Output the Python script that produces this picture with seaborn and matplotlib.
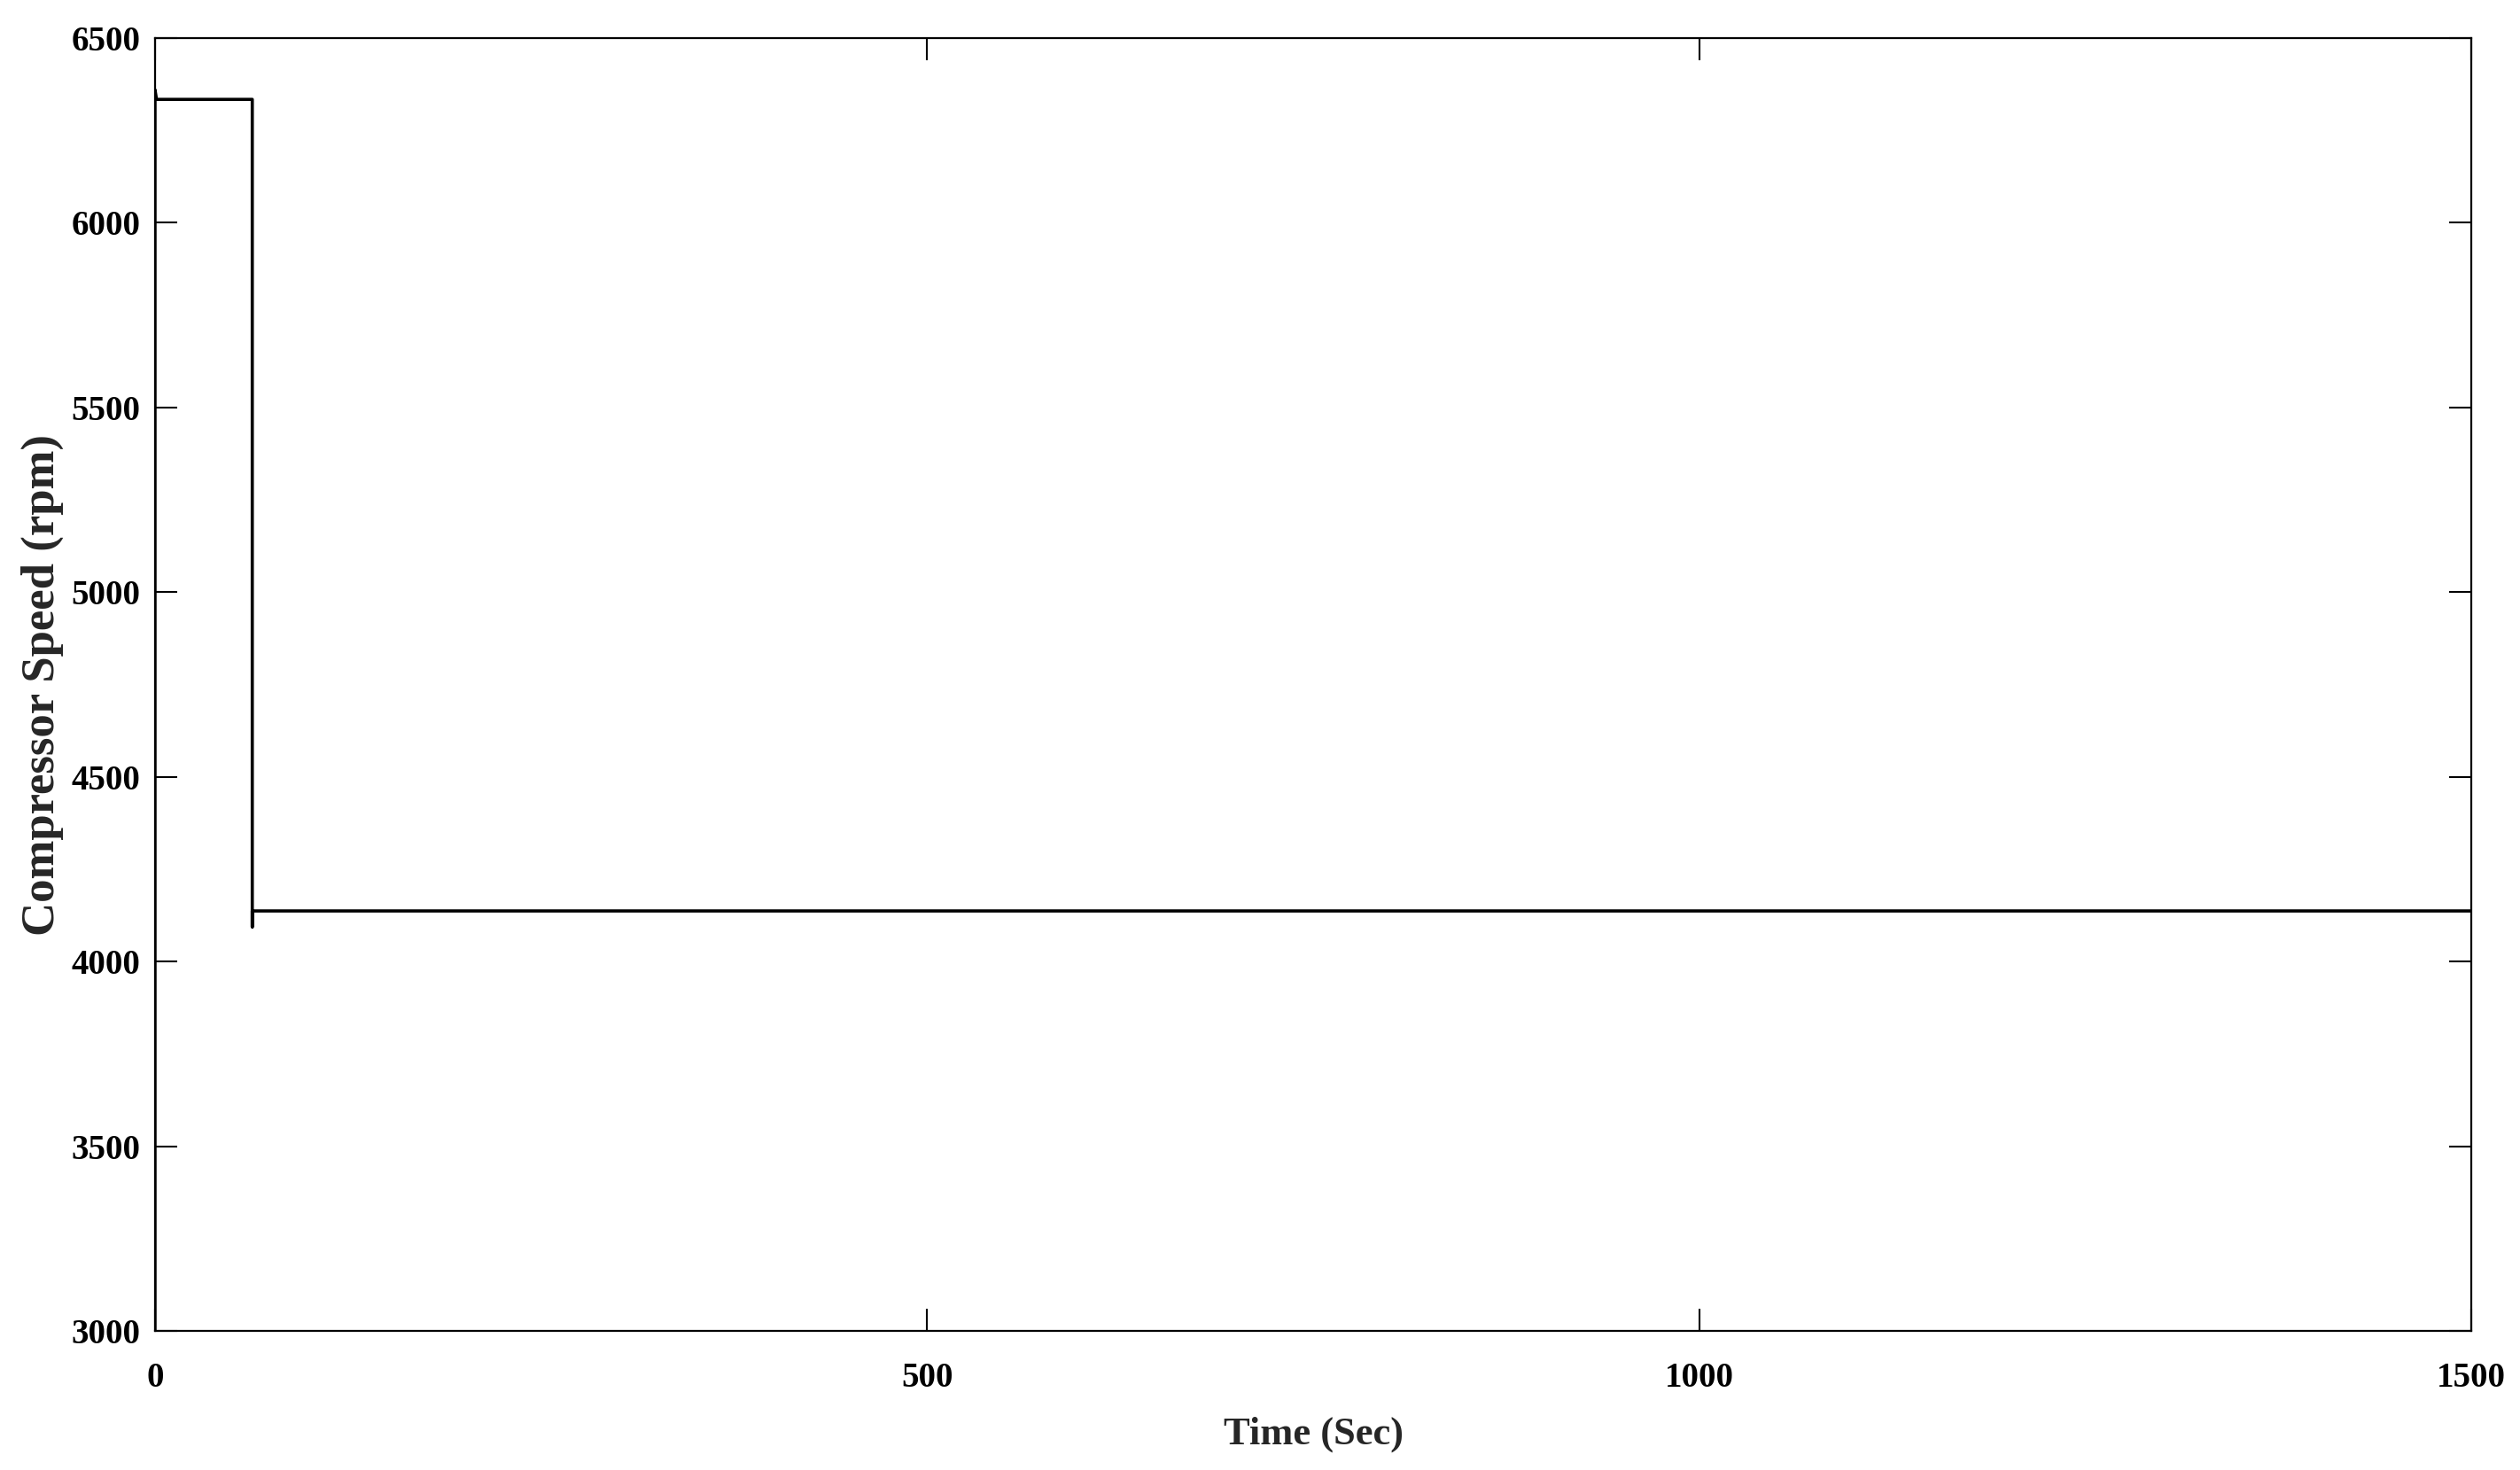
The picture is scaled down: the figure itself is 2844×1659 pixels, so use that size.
import pandas as pd
import matplotlib
matplotlib.use("Agg")
import matplotlib.pyplot as plt
import seaborn as sns

# === Data ===
time_sec = [0, 0, 1, 63, 63, 63, 1500]
speed_rpm = [2900, 6360, 6334, 6334, 4094, 4137, 4137]
x_ticks = [0, 500, 1000, 1500]
y_ticks = [3000, 3500, 4000, 4500, 5000, 5500, 6000, 6500]

df = pd.DataFrame({"time": time_sec, "speed": speed_rpm})

# === Style ===
sns.set_style("ticks")
plt.rcParams["font.family"] = ["Liberation Serif", "DejaVu Serif"]
plt.rcParams["font.weight"] = "bold"

fig = plt.figure(figsize=(28.44, 16.59), dpi=100)
ax = fig.add_axes([0.0615, 0.0946, 0.9192, 0.8795])

sns.lineplot(data=df, x="time", y="speed", ax=ax, sort=False, estimator=None,
             color="black", linewidth=2.6)

ax.set_xlim(0, 1500)
ax.set_ylim(3000, 6500)
ax.set_xticks(x_ticks)
ax.set_yticks(y_ticks)

ax.set_xlabel("Time (Sec)", fontsize=32, fontweight="bold", labelpad=18)
ax.set_ylabel("Compressor Speed (rpm)", fontsize=38, fontweight="bold", labelpad=6)

for side in ["top", "right", "bottom", "left"]:
    ax.spines[side].set_visible(True)
    ax.spines[side].set_linewidth(1.6)
    ax.spines[side].set_color("black")

ax.tick_params(axis="both", direction="in", length=18, width=1.5,
               top=True, right=True, labelsize=28, colors="black")
ax.tick_params(axis="x", pad=25)
ax.tick_params(axis="y", pad=12)
for lbl in ax.get_xticklabels() + ax.get_yticklabels():
    lbl.set_fontweight("bold")

fig.savefig("out.png", dpi=100, facecolor="white")
